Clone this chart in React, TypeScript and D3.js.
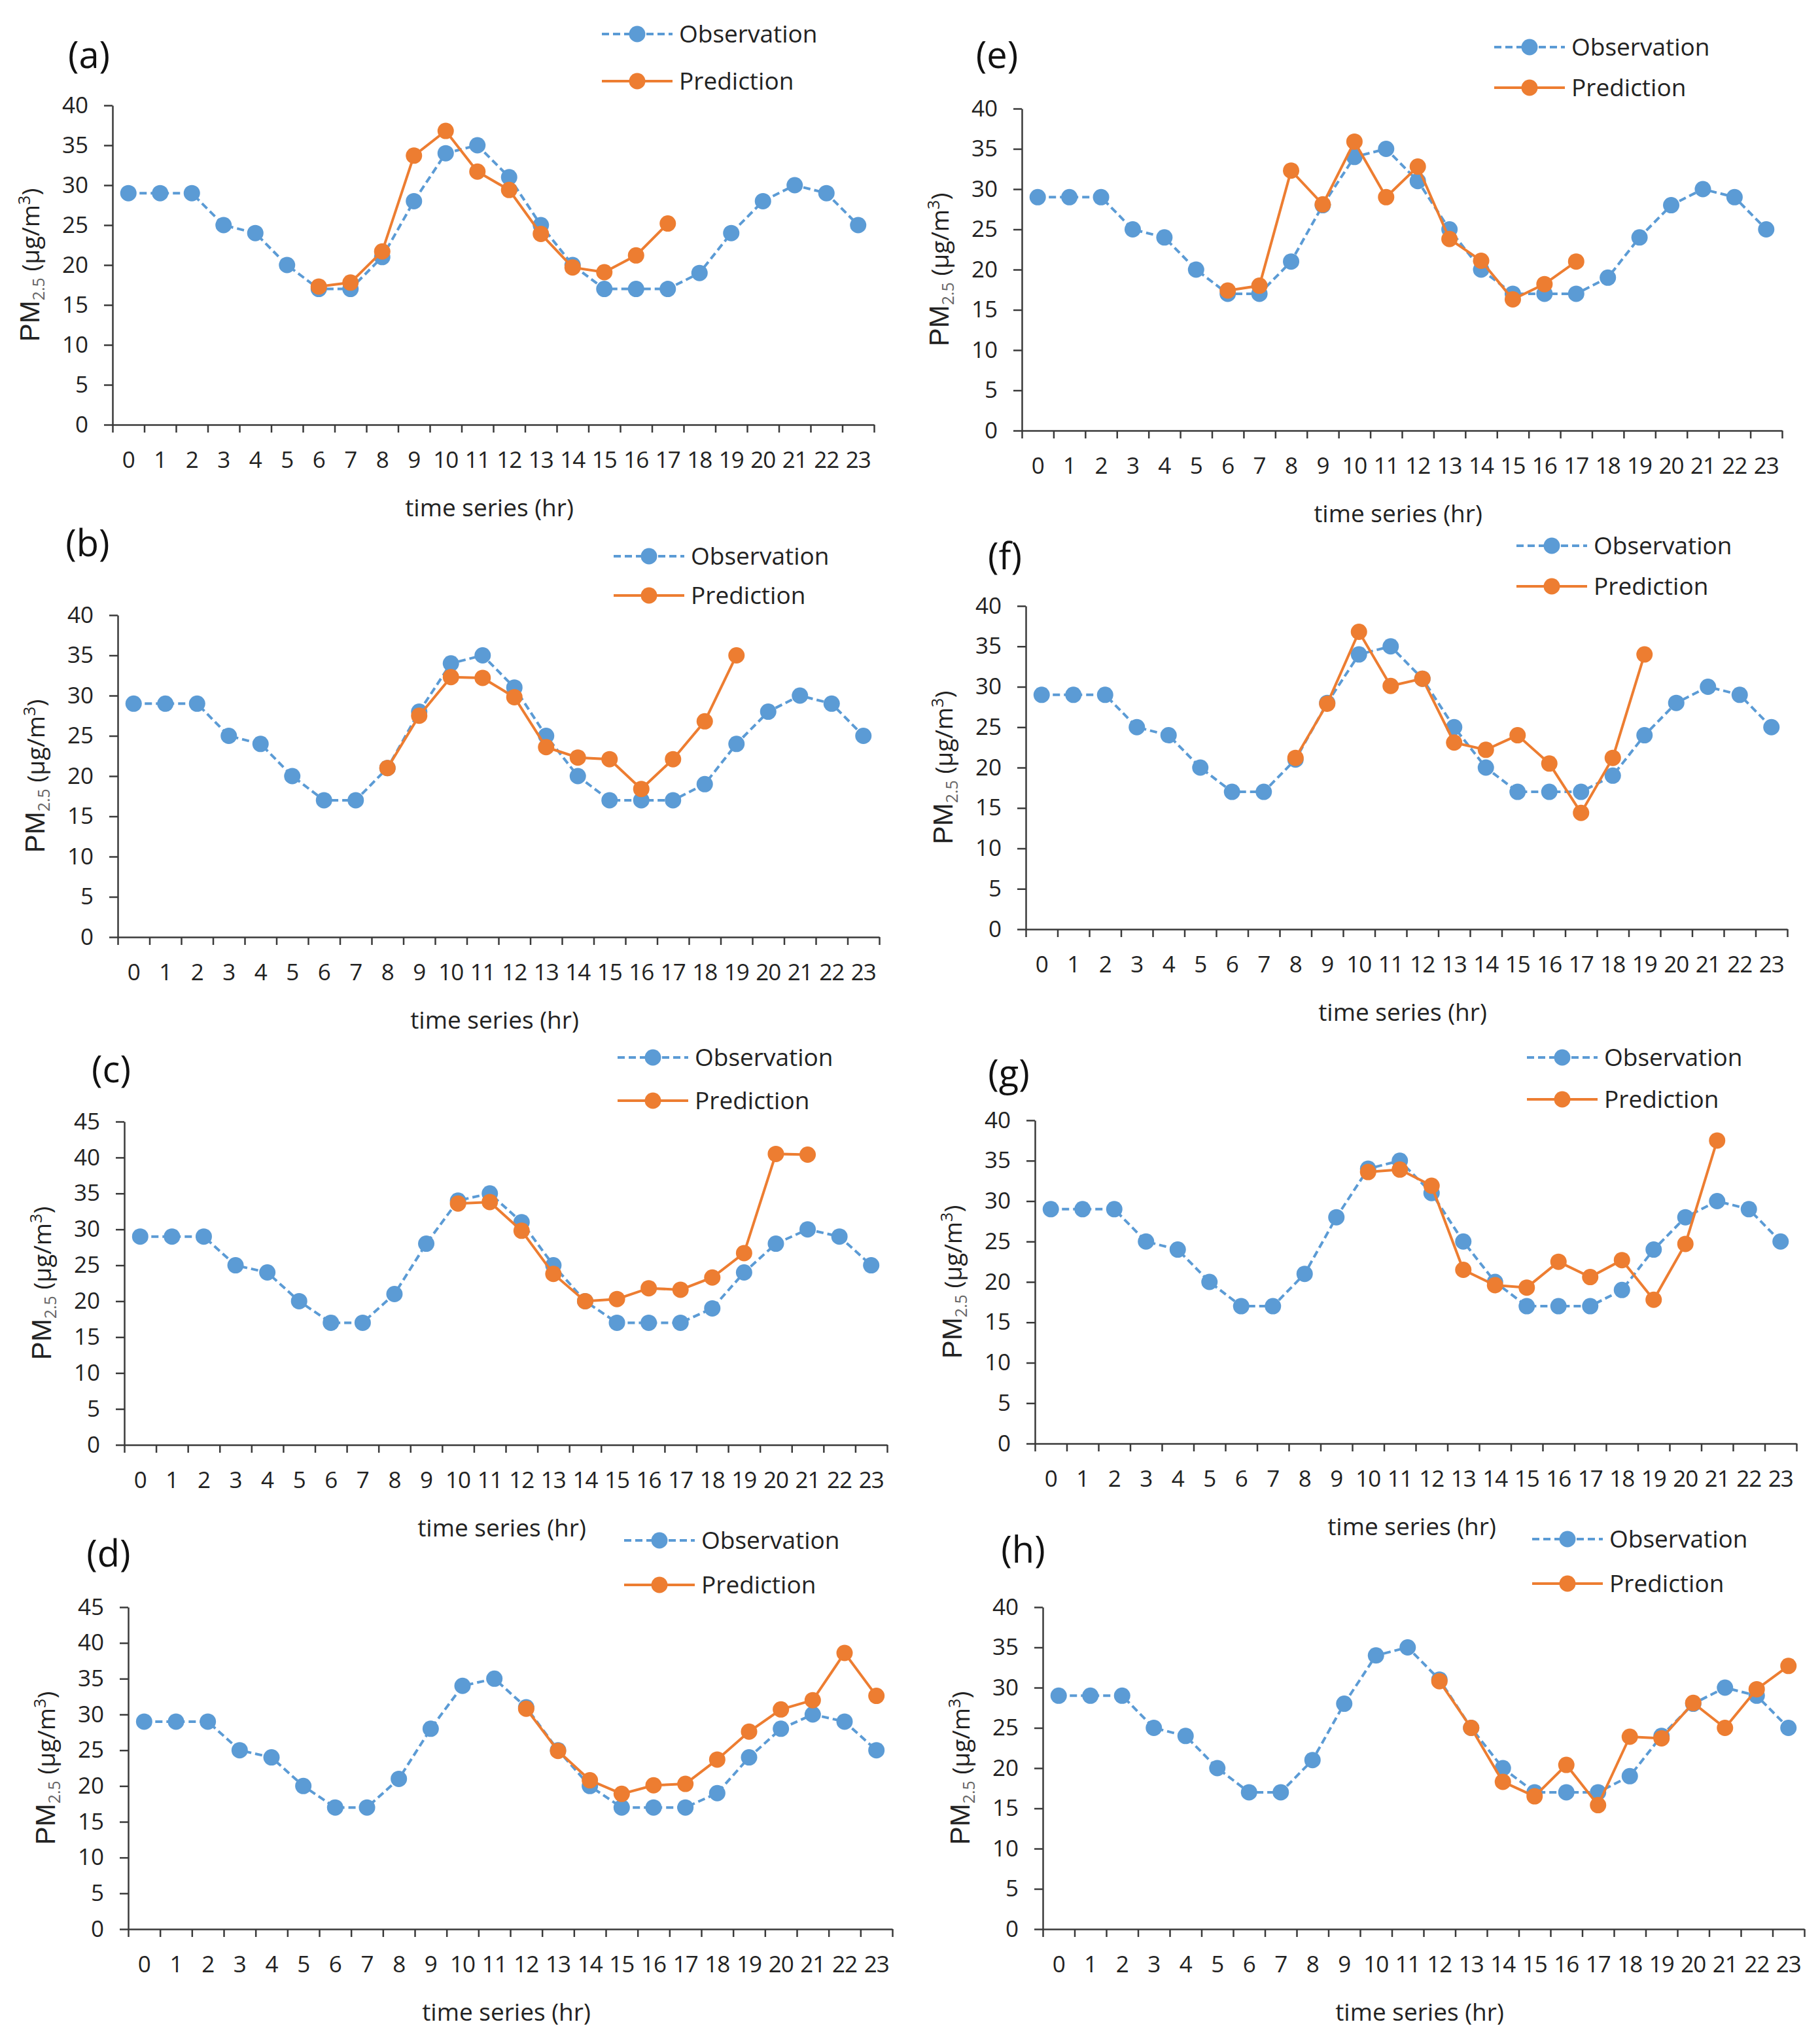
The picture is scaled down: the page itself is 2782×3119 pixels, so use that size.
import * as d3 from 'd3';

import React, { useEffect, useRef } from 'react';

const hours: string[] = [
  '0', '1', '2', '3', '4', '5', '6', '7', '8', '9', '10', '11',
  '12', '13', '14', '15', '16', '17', '18', '19', '20', '21', '22', '23',
];

const observation: number[] = [29, 29, 29, 25, 24, 20, 17, 17, 21, 28, 34, 35, 31, 25, 20, 17, 17, 17, 19, 24, 28, 30, 29, 25];

type V = number | null;
const _ = null;

const predA: V[] = [_, _, _, _, _, _, 17.3, 17.8, 21.7, 33.7, 36.8, 31.7, 29.4, 23.9, 19.7, 19.1, 21.2, 25.2, _, _, _, _, _, _];
const predB: V[] = [_, _, _, _, _, _, _, _, 21, 27.5, 32.3, 32.2, 29.8, 23.6, 22.3, 22.1, 18.4, 22.1, 26.8, 35, _, _, _, _];
const predC: V[] = [_, _, _, _, _, _, _, _, _, _, 33.6, 33.8, 29.8, 23.8, 20, 20.3, 21.8, 21.6, 23.3, 26.7, 40.5, 40.4, _, _];
const predD: V[] = [_, _, _, _, _, _, _, _, _, _, _, _, 30.8, 24.9, 20.8, 18.9, 20.1, 20.3, 23.7, 27.6, 30.7, 32, 38.6, 32.6];
const predE: V[] = [_, _, _, _, _, _, 17.4, 18, 32.3, 28.1, 35.9, 29, 32.8, 23.8, 21.1, 16.3, 18.2, 21, _, _, _, _, _, _];
const predF: V[] = [_, _, _, _, _, _, _, _, 21.2, 27.9, 36.8, 30.1, 31, 23.1, 22.2, 24, 20.5, 14.4, 21.2, 34, _, _, _, _];
const predG: V[] = [_, _, _, _, _, _, _, _, _, _, 33.6, 33.9, 31.9, 21.5, 19.6, 19.3, 22.5, 20.6, 22.7, 17.8, 24.7, 37.5, _, _];
const predH: V[] = [_, _, _, _, _, _, _, _, _, _, _, _, 30.8, 25, 18.3, 16.5, 20.4, 15.4, 23.9, 23.7, 28.1, 25, 29.8, 32.7];

const yMaxes: number[] = [40, 40, 45, 45, 40, 40, 40, 40];
const panelNames: string[] = ['(a)', '(b)', '(c)', '(d)', '(e)', '(f)', '(g)', '(h)'];
const predictions: V[][] = [predA, predB, predC, predD, predE, predF, predG, predH];

// layout of each panel in page pixels
const layouts = [
  { left: 172, top: 161, bottom: 649, right: 1336, lab: [136, 84], leg: [920, 52, 124] },
  { left: 180, top: 940, bottom: 1432, right: 1344, lab: [134, 830], leg: [938, 850, 910] },
  { left: 190, top: 1714, bottom: 2208, right: 1356, lab: [170, 1634], leg: [944, 1616, 1682] },
  { left: 196, top: 2456, bottom: 2948, right: 1364, lab: [166, 2374], leg: [954, 2354, 2422] },
  { left: 1562, top: 166, bottom: 658, right: 2724, lab: [1524, 84], leg: [2284, 72, 134] },
  { left: 1568, top: 926, bottom: 1420, right: 2732, lab: [1536, 850], leg: [2318, 834, 896] },
  { left: 1582, top: 1712, bottom: 2206, right: 2746, lab: [1542, 1640], leg: [2334, 1616, 1680] },
  { left: 1594, top: 2456, bottom: 2948, right: 2758, lab: [1564, 2368], leg: [2342, 2352, 2420] },
];

const BLUE = '#5B9BD5';
const ORANGE = '#ED7D31';
const AXIS = '#3a3a3a';
const FONT = '"Open Sans", "Noto Sans", sans-serif';
const R = 12.5;
const SW = 4;
const DASH = '11 6';

export default function App() {
  const ref = useRef<SVGSVGElement>(null);

  useEffect(() => {
    const svg = d3.select(ref.current);
    svg.selectAll('*').remove();

    layouts.forEach((L, i) => {
      const g = svg.append('g');
      const yMax = yMaxes[i];

      const x = d3.scaleBand().domain(hours).range([L.left, L.right]);
      const xEdge = d3.scaleLinear().domain([0, 24]).range([L.left, L.right]);
      const y = d3.scaleLinear().domain([0, yMax]).range([L.bottom, L.top]);
      const cx = (h: number) => (x(hours[h]) ?? 0) + x.bandwidth() / 2;

      // y axis
      const yAxis = g
        .append('g')
        .attr('transform', `translate(${L.left},0)`)
        .call(
          d3
            .axisLeft(y)
            .tickValues(d3.range(0, yMax + 1, 5))
            .tickSize(13)
            .tickSizeOuter(0)
            .tickPadding(24),
        );
      yAxis.select('.domain').attr('stroke', AXIS).attr('stroke-width', 2.5);
      yAxis.selectAll('.tick line').attr('stroke', AXIS).attr('stroke-width', 2.5);
      yAxis
        .selectAll('.tick text')
        .attr('font-family', FONT)
        .attr('font-size', 35)
        .attr('fill', '#222');

      // x axis: ticks at band edges, labels centred in bands
      const xAxis = g
        .append('g')
        .attr('transform', `translate(0,${L.bottom})`)
        .call(
          d3
            .axisBottom(xEdge)
            .tickValues(d3.range(25))
            .tickFormat(() => '')
            .tickSize(12)
            .tickSizeOuter(0),
        );
      xAxis.select('.domain').attr('stroke', AXIS).attr('stroke-width', 2.5);
      xAxis.selectAll('.tick line').attr('stroke', AXIS).attr('stroke-width', 2.5);

      g.append('g')
        .selectAll('text')
        .data(hours)
        .join('text')
        .attr('x', (d) => (x(d) ?? 0) + x.bandwidth() / 2)
        .attr('y', L.bottom + 66)
        .attr('text-anchor', 'middle')
        .attr('font-family', FONT)
        .attr('font-size', 35)
        .attr('letter-spacing', -1)
        .attr('fill', '#222')
        .text((d) => d);

      // axis titles
      g.append('text')
        .attr('x', (L.left + L.right) / 2 - 6)
        .attr('y', L.bottom + 140)
        .attr('text-anchor', 'middle')
        .attr('font-family', FONT)
        .attr('font-size', 37)
        .attr('fill', '#222')
        .text('time series (hr)');

      const yl = g
        .append('text')
        .attr('transform', `translate(${L.left - 112},${(L.top + L.bottom) / 2}) rotate(-90)`)
        .attr('text-anchor', 'middle')
        .attr('font-family', FONT)
        .attr('font-size', 37)
        .attr('fill', '#222');
      yl.append('tspan').attr('font-family', '"Liberation Sans", Arial, sans-serif').attr('font-size', 42).text('PM');
      yl.append('tspan').attr('font-size', 25).attr('dy', 8).attr('fill', '#666').text('2.5');
      yl.append('tspan').attr('dy', -8).text(' (µg/m');
      yl.append('tspan').attr('font-size', 25).attr('dy', -14).text('3');
      yl.append('tspan').attr('dy', 14).text(')');

      // panel label
      g.append('text')
        .attr('x', L.lab[0])
        .attr('y', L.lab[1] + 20)
        .attr('text-anchor', 'middle')
        .attr('font-family', FONT)
        .attr('font-size', 56)
        .attr('fill', '#111')
        .text(panelNames[i]);

      // observation series
      const obsPts = observation.map((v, h) => [cx(h), y(v)] as [number, number]);
      g.append('path')
        .attr('d', d3.line()(obsPts))
        .attr('fill', 'none')
        .attr('stroke', BLUE)
        .attr('stroke-width', SW)
        .attr('stroke-dasharray', DASH);
      g.append('g')
        .selectAll('circle')
        .data(obsPts)
        .join('circle')
        .attr('cx', (d) => d[0])
        .attr('cy', (d) => d[1])
        .attr('r', R)
        .attr('fill', BLUE);

      // prediction series
      const pred = predictions[i];
      const predPts = pred
        .map((v, h) => (v == null ? null : ([cx(h), y(v)] as [number, number])))
        .filter((p): p is [number, number] => p !== null);
      g.append('path')
        .attr('d', d3.line()(predPts))
        .attr('fill', 'none')
        .attr('stroke', ORANGE)
        .attr('stroke-width', SW);
      g.append('g')
        .selectAll('circle')
        .data(predPts)
        .join('circle')
        .attr('cx', (d) => d[0])
        .attr('cy', (d) => d[1])
        .attr('r', R)
        .attr('fill', ORANGE);

      // legend
      const [lx, ly1, ly2] = L.leg;
      const legend = g.append('g');
      legend
        .append('line')
        .attr('x1', lx)
        .attr('x2', lx + 108)
        .attr('y1', ly1)
        .attr('y2', ly1)
        .attr('stroke', BLUE)
        .attr('stroke-width', SW)
        .attr('stroke-dasharray', DASH);
      legend.append('circle').attr('cx', lx + 54).attr('cy', ly1).attr('r', R).attr('fill', BLUE);
      legend
        .append('line')
        .attr('x1', lx)
        .attr('x2', lx + 108)
        .attr('y1', ly2)
        .attr('y2', ly2)
        .attr('stroke', ORANGE)
        .attr('stroke-width', SW);
      legend.append('circle').attr('cx', lx + 54).attr('cy', ly2).attr('r', R).attr('fill', ORANGE);
      legend
        .selectAll('text')
        .data(['Observation', 'Prediction'])
        .join('text')
        .attr('x', lx + 118)
        .attr('y', (_d, k) => (k === 0 ? ly1 : ly2) + 13)
        .attr('font-family', FONT)
        .attr('font-size', 37)
        .attr('fill', '#222')
        .text((d) => d);
    });
  }, []);

  return (
    <svg
      ref={ref}
      width={2782}
      height={3119}
      style={{ position: 'absolute', left: 0, top: 0, background: '#fff' }}
    ></svg>
  );
}
